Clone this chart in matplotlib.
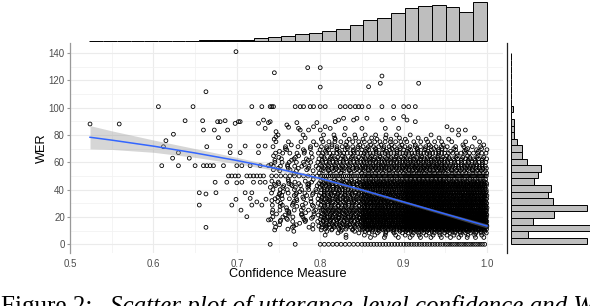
import matplotlib
matplotlib.use("Agg")
import matplotlib.pyplot as plt
import numpy as np
from matplotlib.lines import Line2D

W, H = 590, 306
INK, GRID, TICK = "#4d4d4d", "#ebebeb", "#999999"

# isolated points read one by one: (confidence, WER)
sparse_pts = [
    (0.524, 88.0), (0.559, 88.0), (0.606, 100.7), (0.663, 111.6), (0.6475, 100.7),
    (0.638, 90.4), (0.659, 90.4), (0.660, 83.6), (0.673, 83.6), (0.677, 89.7),
    (0.624, 80.5), (0.615, 75.8), (0.612, 71.4), (0.664, 71.4), (0.678, 78.0),
    (0.699, 140.9), (0.745, 125.5), (0.785, 129.2), (0.800, 129.2), (0.800, 115.0),
    (0.874, 123.1), (0.872, 117.8), (0.858, 115.3), (0.918, 117.8),
    (0.680, 89.7), (0.686, 90.4), (0.689, 83.6), (0.698, 88.4), (0.702, 89.7),
    (0.704, 89.7), (0.726, 88.5), (0.732, 90.9), (0.734, 84.8), (0.738, 89.0),
    (0.740, 89.7), (0.747, 82.4), (0.747, 78.7), (0.760, 87.3), (0.762, 85.6),
    (0.772, 89.0), (0.774, 84.8), (0.776, 83.6), (0.786, 83.6), (0.792, 86.0),
    (0.796, 89.0), (0.800, 83.6), (0.806, 86.0), (0.812, 84.8), (0.818, 89.7),
    (0.822, 90.9), (0.828, 92.2), (0.830, 84.8), (0.840, 90.9), (0.844, 92.2),
    (0.850, 84.8), (0.856, 92.2), (0.874, 90.9), (0.878, 84.8), (0.888, 92.2),
    (0.894, 84.8), (0.900, 93.4), (0.904, 90.9), (0.914, 89.7), (0.952, 86.0),
    (0.958, 83.6), (0.966, 83.6), (0.974, 83.6),
    (0.610, 57.5), (0.630, 57.5), (0.623, 63.0), (0.643, 63.0), (0.650, 57.5),
    (0.630, 67.0), (0.655, 37.7), (0.663, 36.8), (0.675, 37.7), (0.655, 28.7),
    (0.674, 45.4), (0.663, 12.4), (0.660, 57.5), (0.664, 57.5), (0.668, 57.5),
    (0.672, 57.5), (0.688, 45.4), (0.694, 28.7), (0.706, 45.4), (0.699, 32.9),
    (0.705, 25.0), (0.712, 20.2), (0.710, 37.7), (0.718, 37.7), (0.718, 28.7),
    (0.730, 28.7), (0.684, 57.5), (0.700, 57.5), (0.706, 57.5), (0.716, 57.5),
    (0.728, 57.5), (0.738, 57.5), (0.692, 67.0), (0.704, 67.0), (0.726, 67.0),
    (0.692, 71.9), (0.710, 71.9), (0.726, 71.9), (0.734, 71.9),
    (0.690, 50.0), (0.694, 50.0), (0.698, 50.0), (0.702, 50.0), (0.712, 50.0),
    (0.716, 50.0), (0.720, 50.0), (0.724, 50.0), (0.728, 50.0), (0.732, 50.0),
    (0.720, 45.4), (0.728, 45.4), (0.734, 45.4), (0.724, 31.0), (0.735, 33.0),
    (0.738, 17.8), (0.700, 45.0), (0.716, 33.6),
]
wer100_conf = [0.718, 0.730, 0.740, 0.742, 0.744, 0.770, 0.776, 0.780, 0.788, 0.792,
               0.800, 0.806, 0.824, 0.830, 0.836, 0.842, 0.846, 0.850, 0.858, 0.874,
               0.888, 0.900, 0.906, 0.914]

# dense block: number of points per WER level in each confidence column
col_edges = [0.74, 0.80, 0.85, 0.90, 0.95, 1.00]
dense_levels = [0.0, 5.0, 6.7, 8.3, 9.5, 10.5, 11.1, 12.5, 13.3, 14.3, 15.4, 16.7,
                17.6, 18.2, 19.0, 20.0, 21.4, 22.2, 23.1, 24.0, 25.0, 26.7, 27.8,
                28.6, 30.0, 31.3, 32.0, 33.3, 34.5, 35.7, 36.4, 37.5, 38.5, 40.0,
                41.7, 42.9, 43.8, 44.4, 45.5, 46.2, 47.4, 50.0, 52.0, 53.8, 54.5,
                55.6, 57.1, 58.3, 60.0, 61.5, 62.5, 63.6, 64.7, 66.7, 68.0, 69.2,
                70.0, 71.4, 72.7, 75.0, 76.9, 77.8, 80.0]
dense_counts = [
    [2, 10, 14, 16, 18], [0, 1, 3, 4, 5], [0, 2, 4, 6, 6], [0, 2, 5, 8, 8],
    [1, 3, 6, 8, 10], [1, 4, 8, 12, 14], [2, 6, 14, 22, 24], [3, 10, 20, 30, 30],
    [2, 6, 12, 18, 20], [3, 12, 22, 30, 32], [2, 8, 14, 22, 24], [4, 12, 24, 32, 34],
    [2, 6, 12, 18, 20], [3, 8, 16, 24, 26], [2, 6, 10, 16, 16], [5, 14, 26, 34, 36],
    [3, 8, 16, 22, 22], [4, 10, 18, 26, 26], [3, 8, 14, 20, 20], [2, 6, 10, 14, 14],
    [7, 18, 30, 40, 40], [3, 8, 14, 20, 20], [3, 6, 12, 16, 16], [5, 12, 20, 28, 28],
    [4, 10, 18, 22, 22], [3, 8, 12, 18, 18], [2, 5, 8, 12, 12], [7, 16, 26, 34, 32],
    [2, 6, 10, 14, 12], [4, 10, 16, 20, 20], [3, 6, 10, 14, 12], [6, 12, 20, 26, 24],
    [3, 8, 12, 16, 14], [7, 14, 24, 30, 28], [4, 10, 16, 20, 18], [6, 12, 20, 24, 22],
    [3, 6, 10, 14, 12], [5, 10, 16, 18, 16], [3, 8, 12, 14, 12], [3, 8, 12, 14, 12],
    [2, 5, 8, 10, 8], [11, 22, 34, 40, 36], [2, 4, 6, 8, 6], [3, 8, 10, 12, 10],
    [3, 6, 8, 10, 8], [5, 10, 12, 14, 12], [7, 12, 16, 18, 14], [3, 6, 8, 10, 8],
    [7, 12, 14, 16, 12], [3, 6, 8, 8, 6], [4, 8, 10, 12, 10], [3, 6, 8, 8, 6],
    [2, 4, 5, 5, 4], [7, 12, 14, 14, 10], [2, 3, 4, 4, 3], [3, 5, 6, 6, 4],
    [2, 4, 5, 5, 3], [4, 8, 8, 8, 5], [2, 3, 4, 3, 2], [4, 7, 8, 6, 3],
    [1, 3, 3, 2, 1], [1, 2, 3, 2, 1], [2, 4, 4, 2, 1],
]

# loess fit and its band
fit_conf = [0.524, 0.55, 0.60, 0.65, 0.70, 0.75, 0.80, 0.85, 0.90, 0.95, 1.00]
fit_wer = [78.3, 76.2, 71.8, 66.8, 61.3, 55.2, 48.2, 39.8, 31.0, 22.2, 13.4]
fit_half = [8.5, 6.8, 4.5, 3.2, 2.3, 1.6, 1.2, 1.0, 1.0, 1.1, 1.5]

# marginal histograms
conf_edges = np.linspace(0.5233, 0.9996, 30)
conf_counts = [1, 1, 0, 1, 1, 2, 3, 4, 6, 14, 18, 22, 47, 68, 96, 137, 164, 199, 240,
               322, 416, 465, 568, 670, 711, 732, 691, 580, 785]
wer_edges = np.linspace(0, 140, 30)
wer_counts = [920, 212, 1020, 272, 524, 920, 512, 452, 488, 284, 324, 360, 192, 132,
              140, 80, 44, 40, 44, 2, 32, 0, 0, 3, 2, 2, 2, 0, 1]

plt.rcParams["font.family"] = ["Liberation Sans", "DejaVu Sans"]


def fx(px):
    return px / W


def fy(py):
    return 1 - py / H


# build the dense point cloud from the count table; each level gets its own
# offset inside a column so the circles do not stack into vertical stripes
dx, dy = [], []
for k, (lvl, counts) in enumerate(zip(dense_levels, dense_counts)):
    phase = (k * 0.618) % 1.0
    for lo, hi, n in zip(col_edges[:-1], col_edges[1:], counts):
        if n:
            step = (hi - lo) / n
            dx.extend(lo + step * (np.arange(n) + phase))
            dy.extend([lvl] * n)
sx = [p[0] for p in sparse_pts] + wer100_conf + dx
sy = [p[1] for p in sparse_pts] + [100.7] * len(wer100_conf) + dy

fig = plt.figure(figsize=(W / 100, H / 100), dpi=100)
fig.patch.set_facecolor("white")

XLIM, YLIM = (0.5, 1.0195), (-6.36, 147.25)
ax = fig.add_axes([fx(70), fy(253), fx(503.3) - fx(70), fy(43) - fy(253)])
ax.set_xlim(*XLIM); ax.set_ylim(*YLIM)
ax.set_xticks(np.arange(0.5, 1.01, 0.1))
ax.set_xticklabels(["0.5", "0.6", "0.7", "0.8", "0.9", "1.0"])
ax.set_xticks(np.arange(0.55, 1.0, 0.1), minor=True)
ax.set_yticks(np.arange(0, 141, 20))
ax.set_yticks(np.arange(10, 140, 20), minor=True)
ax.grid(which="major", color=GRID, lw=0.8)
ax.grid(which="minor", color="#f2f2f2", lw=0.6)
ax.set_axisbelow(True)
for s in ("top", "right", "bottom"):
    ax.spines[s].set_visible(False)
ax.spines["left"].set_color(TICK); ax.spines["left"].set_linewidth(0.9)
ax.tick_params(axis="x", which="major", length=0, pad=4.2, labelsize=7, labelcolor=INK)
ax.tick_params(axis="y", which="major", length=2.5, width=0.8, color=TICK, pad=1.2,
               labelsize=7, labelcolor=INK)
ax.tick_params(which="minor", length=0)

ax.scatter(sx, sy, s=7.5, facecolors="none", edgecolors="black", linewidths=0.6, zorder=2)
lo = np.array(fit_wer) - np.array(fit_half)
hi = np.array(fit_wer) + np.array(fit_half)
ax.fill_between(fit_conf, lo, hi, color="#999999", alpha=0.4, lw=0, zorder=3)
ax.plot(fit_conf, fit_wer, color="#3366FF", lw=1.1, zorder=4)

fig.text(fx(41.7), fy(148), "WER", rotation=90, ha="center", va="center", fontsize=9.2, color="black")
fig.text(fx(288), fy(274), "Confidence Measure", ha="center", va="center", fontsize=9.2, color="black")

# top marginal histogram
axT = fig.add_axes([fx(70), fy(40.7), fx(503.3) - fx(70), fy(0) - fy(40.7)])
axT.bar(conf_edges[:-1], conf_counts, width=np.diff(conf_edges), align="edge",
        color="#bebebe", edgecolor="black", linewidth=0.7, clip_on=False)
axT.set_xlim(*XLIM); axT.set_ylim(0, 834); axT.axis("off")

# right marginal histogram
axR = fig.add_axes([fx(510.7), fy(253), fx(590) - fx(510.7), fy(43) - fy(253)])
axR.barh(wer_edges[:-1], wer_counts, height=np.diff(wer_edges), align="edge",
         color="#bebebe", edgecolor="black", linewidth=0.7, clip_on=False)
axR.set_ylim(*YLIM); axR.set_xlim(0, 951.6); axR.axis("off")

fig.add_artist(Line2D([fx(506.7)] * 2, [fy(253), fy(43)], color="#222222", lw=0.9))

# caption of the paper, cut by the bottom edge as in the source
serif = ["Liberation Serif", "DejaVu Serif"]
fig.text(fx(1), fy(313), "Figure 2:", fontsize=18, family=serif, ha="left", va="baseline")
fig.text(fx(110), fy(313), "Scatter plot of utterance-level confidence and WER", fontsize=18,
         style="italic", family=serif, ha="left", va="baseline")

fig.savefig("out.png", dpi=100, facecolor="white")
